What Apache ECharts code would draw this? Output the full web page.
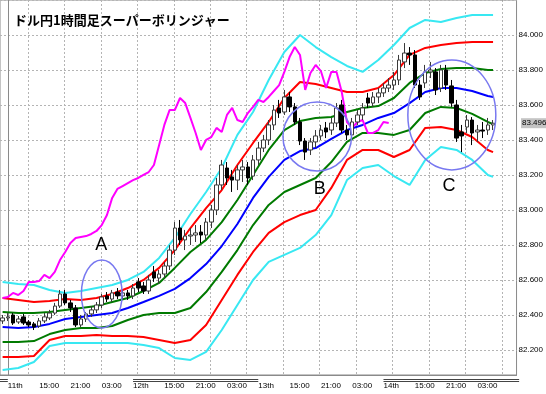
<!DOCTYPE html>
<html><head><meta charset="utf-8">
<script src="https://cdn.jsdelivr.net/npm/echarts@6/dist/echarts.min.js"></script>
<style>html,body{margin:0;padding:0;background:#fff}#c{width:546px;height:394px}</style>
</head><body><div id="c"></div><script>
const titleText = 'ドル円1時間足スーパーボリンジャー';
// hour index: 0 = 11th 09:00
const firstHour = -1;
const opens = [82.366,82.383,82.4,82.36,82.389,82.36,82.349,82.337,82.366,82.383,82.411,82.451,82.52,82.469,82.44,82.343,82.377,82.406,82.429,82.457,82.509,82.491,82.531,82.509,82.526,82.509,82.589,82.566,82.537,82.646,82.611,82.634,82.68,82.771,82.897,82.829,82.851,82.857,82.874,82.857,82.931,83.0,83.143,83.24,83.189,83.171,83.229,83.246,83.194,83.286,83.354,83.4,83.486,83.583,83.56,83.646,83.589,83.503,83.394,83.343,83.389,83.423,83.469,83.457,83.497,83.6,83.457,83.429,83.503,83.543,83.64,83.611,83.646,83.669,83.697,83.714,83.743,83.846,83.897,83.886,83.714,83.726,83.789,83.789,83.697,83.8,83.709,83.6,83.446,83.474,83.514,83.446,83.457,83.457,83.486];
const closes = [82.383,82.389,82.354,82.377,82.354,82.343,82.331,82.366,82.389,82.411,82.451,82.52,82.469,82.44,82.343,82.377,82.406,82.429,82.457,82.503,82.491,82.526,82.509,82.526,82.509,82.554,82.554,82.537,82.6,82.611,82.634,82.68,82.771,82.897,82.829,82.851,82.857,82.869,82.857,82.931,83.0,83.143,83.257,83.183,83.171,83.229,83.246,83.183,83.286,83.354,83.4,83.486,83.571,83.554,83.646,83.589,83.503,83.394,83.331,83.389,83.423,83.457,83.446,83.497,83.583,83.457,83.429,83.503,83.543,83.583,83.611,83.646,83.669,83.697,83.714,83.743,83.857,83.897,83.886,83.714,83.646,83.789,83.8,83.686,83.8,83.714,83.611,83.411,83.423,83.514,83.44,83.457,83.451,83.486,83.496];
const lows = [82.349,82.366,82.343,82.349,82.343,82.331,82.314,82.326,82.354,82.371,82.4,82.44,82.457,82.417,82.331,82.331,82.36,82.389,82.411,82.44,82.474,82.474,82.491,82.491,82.486,82.491,82.531,82.52,82.52,82.589,82.577,82.611,82.657,82.743,82.8,82.771,82.8,82.817,82.811,82.829,82.897,82.971,83.114,83.143,83.103,83.114,83.16,83.143,83.171,83.257,83.331,83.371,83.457,83.526,83.543,83.56,83.486,83.371,83.286,83.314,83.354,83.4,83.411,83.429,83.474,83.44,83.4,83.411,83.486,83.514,83.583,83.589,83.611,83.646,83.674,83.686,83.714,83.811,83.829,83.697,83.629,83.697,83.754,83.657,83.674,83.686,83.589,83.389,83.331,83.44,83.371,83.389,83.411,83.429,83.457];
const highs = [82.4,82.411,82.411,82.394,82.406,82.371,82.36,82.383,82.411,82.429,82.469,82.543,82.543,82.486,82.457,82.4,82.417,82.451,82.474,82.52,82.531,82.543,82.554,82.543,82.543,82.577,82.611,82.589,82.629,82.68,82.657,82.703,82.8,82.931,82.943,82.886,82.897,82.914,82.914,82.954,83.029,83.183,83.286,83.274,83.229,83.257,83.286,83.274,83.314,83.389,83.429,83.514,83.6,83.629,83.686,83.674,83.611,83.526,83.411,83.411,83.457,83.486,83.503,83.526,83.611,83.629,83.486,83.526,83.571,83.611,83.669,83.674,83.697,83.726,83.754,83.789,83.886,83.954,83.931,83.914,83.743,83.829,83.846,83.811,83.829,83.829,83.743,83.629,83.486,83.543,83.531,83.486,83.503,83.526,83.514];

const tickHours = [0,6,12,18,24,30,36,42,48,54,60,66,72,78,84,90];
const tickLabels = ['11th','15:00','21:00','03:00','12th','15:00','21:00','03:00','13th','15:00','21:00','03:00','14th','15:00','21:00','03:00'];

const bandHours = [-1,2,5,8,11,14,17,20,23,26,29,32,35,38,41,44,47,50,53,56,59,62,65,68,71,74,77,80,83,86,89,92,93];
const mid = [82.331,82.326,82.331,82.349,82.377,82.389,82.4,82.411,82.44,82.474,82.509,82.549,82.611,82.691,82.794,82.92,83.069,83.189,83.286,83.337,83.354,83.406,83.457,83.486,83.526,83.554,83.611,83.674,83.697,83.697,83.68,83.651,83.646];
const up1 = [82.417,82.411,82.411,82.417,82.429,82.44,82.451,82.474,82.497,82.537,82.583,82.669,82.76,82.829,82.931,83.057,83.2,83.343,83.457,83.509,83.526,83.531,83.56,83.583,83.594,83.64,83.726,83.783,83.806,83.811,83.811,83.8,83.8];
const up2 = [82.497,82.486,82.474,82.48,82.491,82.486,82.497,82.52,82.554,82.6,82.669,82.771,82.897,83.011,83.114,83.257,83.383,83.503,83.64,83.731,83.72,83.697,83.674,83.674,83.697,83.771,83.886,83.926,83.943,83.954,83.96,83.96,83.96];
const up3 = [82.589,82.577,82.571,82.543,82.526,82.537,82.554,82.571,82.6,82.646,82.726,82.84,82.977,83.103,83.24,83.429,83.56,83.743,83.903,84.0,83.931,83.874,83.823,83.789,83.857,83.943,84.04,84.086,84.074,84.097,84.114,84.114,84.114];
const lo1 = [82.246,82.246,82.251,82.291,82.314,82.326,82.326,82.337,82.371,82.4,82.411,82.411,82.44,82.531,82.646,82.771,82.914,83.029,83.103,83.143,83.183,83.274,83.389,83.44,83.44,83.429,83.457,83.554,83.589,83.583,83.549,83.503,83.491];
const lo2 = [82.16,82.16,82.166,82.257,82.28,82.28,82.286,82.28,82.28,82.274,82.257,82.24,82.257,82.343,82.486,82.629,82.76,82.869,82.931,82.971,83.0,83.126,83.286,83.343,83.343,83.303,83.343,83.469,83.474,83.457,83.417,83.343,83.331];
const lo3 = [82.086,82.097,82.131,82.223,82.24,82.24,82.24,82.24,82.24,82.229,82.211,82.154,82.143,82.189,82.314,82.457,82.6,82.703,82.743,82.783,82.857,82.971,83.171,83.24,83.257,83.194,83.143,83.286,83.36,83.343,83.286,83.2,83.189];

const chikouStart = -1;
const chikou = [82.497,82.503,82.526,82.514,82.537,82.589,82.589,82.594,82.629,82.611,82.646,82.714,82.76,82.811,82.84,82.846,82.851,82.863,82.88,82.914,82.971,83.069,83.12,83.137,83.154,83.171,83.183,83.2,83.217,83.257,83.371,83.486,83.571,83.571,83.64,83.611,83.526,83.44,83.343,83.4,83.417,83.469,83.446,83.543,83.583,83.514,83.503,83.554,83.589,83.629,83.617,83.646,83.68,83.714,83.789,83.874,83.931,83.886,83.686,83.783,83.829,83.794,83.697,83.789,83.789,83.674,83.503,83.469,83.503,83.514,83.44,83.44,83.457,83.503,83.497];

const lastPrice = 83.496;
const annotations = [
  {label:'A', h:18.0, p:82.52, rh:3.9, rp:0.194, lh:17.9, lp:82.80},
  {label:'B', h:59.3, p:83.42, rh:6.57, rp:0.197, lh:59.8, lp:83.12},
  {label:'C', h:85.1, p:83.543, rh:8.43, rp:0.314, lh:84.55, lp:83.137}
];
const dayBars = [[-1.5,0],[24,48],[72,98]];
// vertical dotted grid: first line and spacing, in hours
const vGridFirst = 3.83, vGridStep = 6.985, vGridCount = 14;

const nSlots = 99;
const cats = [];
for (let i = 0; i < nSlots; i++) cats.push('h' + (i + firstHour));
const candleData = opens.map((o, i) => [o, closes[i], lows[i], highs[i]]);
const pairs = arr => bandHours.map((h, i) => [h, arr[i]]);
const chikouData = chikou.map((v, i) => [i + chikouStart, v]);

const smallFont = '"Liberation Sans Narrow","Arial Narrow","Liberation Sans",sans-serif';
const gridStyle = {color:'#b4b4b4', type:[2,2], width:1};

const chart = echarts.init(document.getElementById('c'), null, {renderer:'canvas'});
function line(data, color) {
  return {type:'line', xAxisIndex:1, yAxisIndex:0, data, symbol:'none', showSymbol:false,
    lineStyle:{color, width:2}, z:2, silent:true};
}
chart.setOption({
  animation:false,
  backgroundColor:'#ffffff',
  grid:[{left:0, right:26, top:0, bottom:19, show:true, borderColor:'#8a8a8a', borderWidth:1, backgroundColor:'transparent'}],
  xAxis:[
    {type:'category', gridIndex:0, data:cats,
      axisLine:{show:true, lineStyle:{color:'#8a8a8a'}}, axisTick:{show:false}, splitLine:{show:false},
      axisLabel:{
        interval:(idx) => tickHours.indexOf(idx + firstHour) >= 0,
        formatter:(v, idx) => { const k = tickHours.indexOf(idx + firstHour); return k >= 0 ? tickLabels[k] : ''; },
        align:'left', margin:7, fontSize:8, color:'#000', fontFamily:smallFont
      }},
    {type:'value', gridIndex:0, min:-1.5, max:97.5, show:false}
  ],
  yAxis:[
    {type:'value', gridIndex:0, position:'right', min:82.057, max:84.2, splitNumber:11, scale:true,
      axisLine:{show:true, lineStyle:{color:'#8a8a8a'}}, axisTick:{show:false},
      axisLabel:{margin:2, fontSize:8, color:'#000', fontFamily:smallFont,
        formatter:(v) => (v < 82.1 || v > 84.1) ? '' : v.toFixed(3)},
      splitLine:{show:true, lineStyle:gridStyle}}
  ],
  series:[
    line(pairs(up3), '#38e8f2'),
    line(pairs(lo3), '#38e8f2'),
    line(pairs(up2), '#ff0000'),
    line(pairs(lo2), '#ff0000'),
    line(pairs(up1), '#007a00'),
    line(pairs(lo1), '#007a00'),
    line(pairs(mid), '#0000ff'),
    line(chikouData, '#ff00ff'),
    {type:'candlestick', xAxisIndex:0, yAxisIndex:0, data:candleData, barWidth:4, z:3,
      itemStyle:{color:'#ffffff', color0:'#000000', borderColor:'#3a3a3a', borderColor0:'#000000', borderWidth:1}}
  ]
});

const px = h => chart.convertToPixel({xAxisIndex:1}, h);
const py = p => chart.convertToPixel({yAxisIndex:0}, p);
const g = [];
const yTop = py(84.2), yb = py(82.057);
for (let k = 0; k < vGridCount; k++) {
  const x = Math.round(px(vGridFirst + k * vGridStep)) + 0.5;
  g.push({type:'line', z:-1, silent:true, shape:{x1:x, y1:yTop, x2:x, y2:yb},
    style:{stroke:'#b4b4b4', lineWidth:1, lineDash:[2,2]}});
}
g.push({type:'text', x:14, y:20, z:20, style:{text:titleText, fontSize:13, fontWeight:'bold',
  fontFamily:'"Noto Sans CJK JP",sans-serif', fill:'#000', verticalAlign:'middle'}});
annotations.forEach(a => {
  const cx = px(a.h), cy = py(a.p);
  const rx = px(a.h + a.rh) - cx, ry = cy - py(a.p + a.rp);
  g.push({type:'ellipse', z:15, shape:{cx, cy, rx, ry}, style:{fill:'none', stroke:'#7878f0', lineWidth:1.5}});
  g.push({type:'text', z:16, x:px(a.lh), y:py(a.lp), style:{text:a.label, fontSize:18,
    fontFamily:'"Liberation Sans",sans-serif', fill:'#000', align:'center', verticalAlign:'middle'}});
});
dayBars.forEach(d => {
  const x1 = Math.max(0, px(d[0])), x2 = px(d[1]);
  [4.5, 6.5].forEach(off => g.push({type:'line', z:10, shape:{x1, y1:Math.round(yb) + off, x2, y2:Math.round(yb) + off},
    style:{stroke:'#444', lineWidth:1}}));
});
const lp = py(lastPrice);
g.push({type:'rect', z:20, shape:{x:521, y:lp - 5, width:25, height:10}, style:{fill:'#c4c4c4'}});
g.push({type:'text', z:21, x:522, y:lp, style:{text:lastPrice.toFixed(3), fontSize:8,
  fontFamily:smallFont, fill:'#000', verticalAlign:'middle'}});
chart.setOption({graphic:g});
</script></body></html>
